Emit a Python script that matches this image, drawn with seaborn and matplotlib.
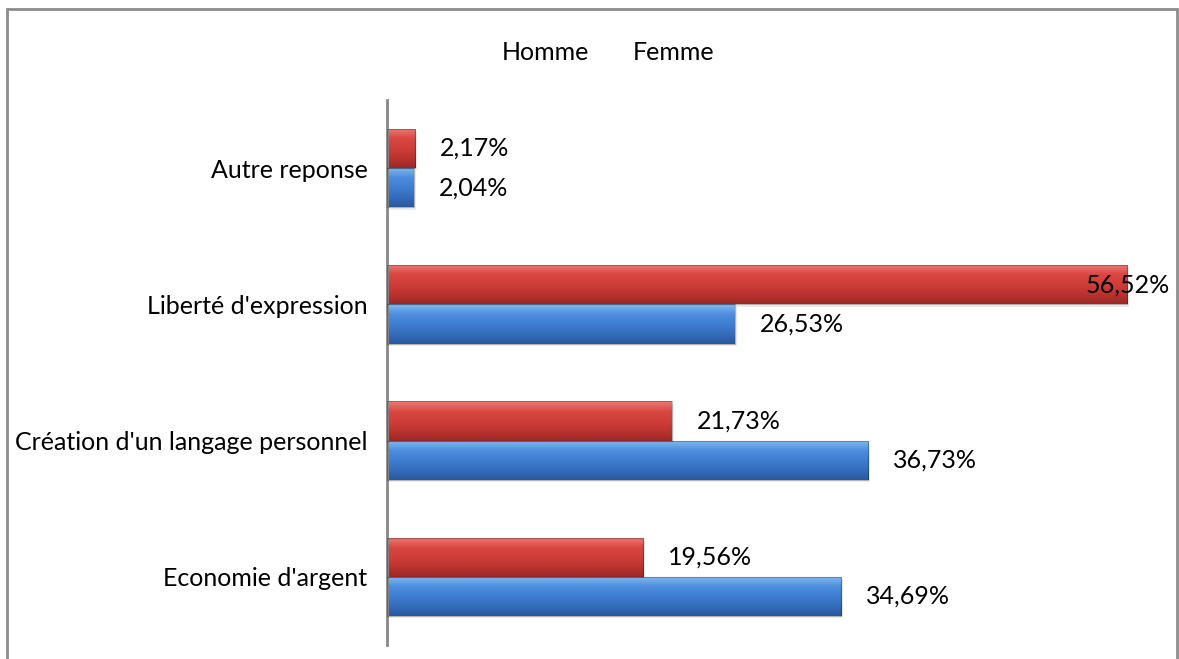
import numpy as np
import pandas as pd
import matplotlib
matplotlib.use("Agg")
import matplotlib.pyplot as plt
import matplotlib.patches as mpatches
from matplotlib.colors import LinearSegmentedColormap
import seaborn as sns

categories = ["Autre reponse", "Liberté d'expression",
              "Création d'un langage personnel", "Economie d'argent"]
homme = [2.04, 26.53, 36.73, 34.69]
femme = [2.17, 56.52, 21.73, 19.56]
series_names = ["Homme", "Femme"]

df = pd.DataFrame({
    "categorie": categories * 2,
    "serie": ["Homme"] * len(categories) + ["Femme"] * len(categories),
    "valeur": homme + femme,
})

sns.set_theme(style="white")
plt.rcParams["font.family"] = ["Lato", "DejaVu Sans"]
FS = 18

W, H = 1179, 659
fig = plt.figure(figsize=(W / 100, H / 100), dpi=100)
ax = fig.add_axes([387 / W, 1 - 645 / H, (1173 - 387) / W, (645 - 100) / H])

palette = {"Femme": "#d23f3b", "Homme": "#3f80d2"}
sns.barplot(data=df, y="categorie", x="valeur", hue="serie",
            hue_order=["Femme", "Homme"], order=categories,
            palette=palette, orient="h", width=0.575, gap=0,
            saturation=1, legend=False, ax=ax)

ax.set_xlim(0, 60)
ax.set_ylim(len(categories) - 0.5, -0.5)

# bevelled gradient fill on each bar
grads = {
    "Femme": LinearSegmentedColormap.from_list(
        "f", ["#ec7a76", "#da4843", "#d03e3a", "#bc332f", "#9c2926"]),
    "Homme": LinearSegmentedColormap.from_list(
        "h", ["#86bbf0", "#4d8ede", "#3e7fd2", "#356cbb", "#2a599e"]),
}
grad = np.linspace(0, 1, 64).reshape(-1, 1)
for cont, name in zip(ax.containers, ["Femme", "Homme"]):
    for p in cont:
        x0, y0 = p.get_x(), p.get_y()
        w, h = p.get_width(), p.get_height()
        p.set_facecolor("none")
        p.set_edgecolor("none")
        # soft shadow under the bar
        sh = mpatches.Rectangle((x0, y0 + h * 0.06), w + 0.15, h,
                                facecolor="#000000", alpha=0.07,
                                edgecolor="none", zorder=1)
        ax.add_patch(sh)
        im = ax.imshow(grad, cmap=grads[name], aspect="auto",
                       extent=(x0, x0 + w, y0 + h, y0), zorder=2,
                       interpolation="bilinear")
        clip = mpatches.Rectangle((x0, y0), w, h, transform=ax.transData)
        im.set_clip_path(clip)
        edge = mpatches.Rectangle((x0, y0), w, h, facecolor="none",
                                  edgecolor="#00000040", linewidth=0.8,
                                  zorder=3)
        ax.add_patch(edge)

# value labels
for cont, vals in zip(ax.containers, [femme, homme]):
    for p, v in zip(cont, vals):
        txt = f"{v:.2f}".replace(".", ",") + "%"
        yc = p.get_y() + p.get_height() / 2
        if v + 1.9 + 6.6 > 60:
            ax.text(59.75, yc, txt, ha="right", va="center",
                    fontsize=FS, color="#000000", zorder=5)
        else:
            ax.text(v + 1.9, yc, txt, ha="left", va="center",
                    fontsize=FS, color="#000000", zorder=5)

ax.set_xlabel("")
ax.set_ylabel("")
ax.set_xticks([])
ax.tick_params(axis="y", length=0, pad=14, labelsize=FS, labelcolor="#000000")
for s in ["top", "right", "bottom"]:
    ax.spines[s].set_visible(False)
ax.spines["left"].set_color("#888888")
ax.spines["left"].set_linewidth(2)
ax.set_facecolor("white")

# legend entries
fig.text(545 / W, 1 - 53 / H, series_names[0], ha="center", va="center",
         fontsize=FS, color="#000000")
fig.text(674 / W, 1 - 53 / H, series_names[1], ha="center", va="center",
         fontsize=FS, color="#000000")

# outer chart frame
frame = mpatches.Rectangle((7 / W, -0.05), (1177 - 7) / W, 1.05 - 9 / H,
                           transform=fig.transFigure, facecolor="none",
                           edgecolor="#8c8c8c", linewidth=2, clip_on=False)
fig.patches.append(frame)

fig.savefig("out.png", dpi=100, facecolor="white")
